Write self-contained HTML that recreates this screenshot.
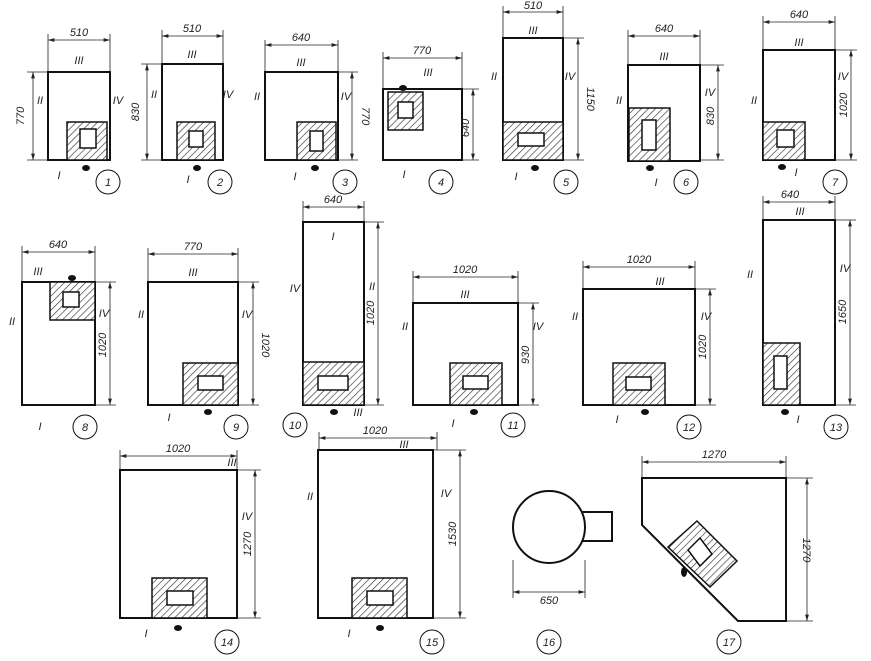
<!DOCTYPE html>
<html><head><meta charset="utf-8"><style>
html,body{margin:0;padding:0;background:#fff;}
svg{display:block}
text{font-family:"Liberation Sans",sans-serif;font-style:italic;font-size:11px;fill:#222}
.b{fill:none;stroke:#111;stroke-width:2}
.d{stroke:#222;stroke-width:0.8;fill:none}
.h{fill:url(#hat);stroke:#111;stroke-width:1.5}
.w{fill:#fff;stroke:#111;stroke-width:1.5}
.c{fill:none;stroke:#111;stroke-width:1}
</style></head><body>
<svg width="871" height="661" viewBox="0 0 871 661" xmlns="http://www.w3.org/2000/svg">
<defs>
<pattern id="hat" width="5" height="5" patternUnits="userSpaceOnUse" patternTransform="rotate(45)">
<rect width="5" height="5" fill="#fff"/><line x1="0" y1="0" x2="0" y2="5" stroke="#333" stroke-width="1.3"/></pattern>
<marker id="a" viewBox="0 0 10 6" refX="10" refY="3" markerWidth="8" markerHeight="5" orient="auto-start-reverse"><path d="M0,0 L10,3 L0,6 z" fill="#222"/></marker>
</defs>
<g class="d" marker-start="url(#a)" marker-end="url(#a)">
<line x1="48" y1="40" x2="110" y2="40"/><line x1="33" y1="72" x2="33" y2="160"/>
<line x1="162" y1="36" x2="223" y2="36"/><line x1="147" y1="64" x2="147" y2="160"/>
<line x1="265" y1="45" x2="338" y2="45"/><line x1="352" y1="72" x2="352" y2="160"/>
<line x1="383" y1="58" x2="462" y2="58"/><line x1="473" y1="89" x2="473" y2="160"/>
<line x1="503" y1="12" x2="563" y2="12"/><line x1="578" y1="38" x2="578" y2="160"/>
<line x1="628" y1="36" x2="700" y2="36"/><line x1="718" y1="65" x2="718" y2="160"/>
<line x1="763" y1="22" x2="835" y2="22"/><line x1="851" y1="50" x2="851" y2="160"/>
<line x1="22" y1="252" x2="95" y2="252"/><line x1="110" y1="282" x2="110" y2="405"/>
<line x1="148" y1="254" x2="238" y2="254"/><line x1="253" y1="282" x2="253" y2="405"/>
<line x1="303" y1="207" x2="364" y2="207"/><line x1="378" y1="222" x2="378" y2="405"/>
<line x1="413" y1="277" x2="518" y2="277"/><line x1="533" y1="303" x2="533" y2="405"/>
<line x1="583" y1="267" x2="695" y2="267"/><line x1="710" y1="289" x2="710" y2="405"/>
<line x1="763" y1="202" x2="835" y2="202"/><line x1="850" y1="220" x2="850" y2="405"/>
<line x1="120" y1="456" x2="237" y2="456"/><line x1="255" y1="470" x2="255" y2="618"/>
<line x1="319" y1="438" x2="437" y2="438"/><line x1="460" y1="450" x2="460" y2="618"/>
<line x1="513" y1="592" x2="585" y2="592"/>
<line x1="642" y1="462" x2="786" y2="462"/><line x1="807" y1="478" x2="807" y2="621"/>
</g>
<g class="d">
<path d="M48,34V72M110,34V72M27,72H48M27,160H48"/>
<path d="M162,30V64M223,30V64M141,64H162M141,160H162"/>
<path d="M265,40V72M338,40V72M338,72H358M338,160H358"/>
<path d="M383,52V89M462,52V89M462,89H479M462,160H479"/>
<path d="M503,6V38M563,6V38M563,38H584M563,160H584"/>
<path d="M628,30V65M700,30V65M700,65H724M700,160H724"/>
<path d="M763,16V50M835,16V50M835,50H857M835,160H857"/>
<path d="M22,246V282M95,246V282M95,282H116M95,405H116"/>
<path d="M148,248V282M238,248V282M238,282H259M238,405H259"/>
<path d="M303,201V222M364,201V222M364,222H384M364,405H384"/>
<path d="M413,271V303M518,271V303M518,303H539M518,405H539"/>
<path d="M583,261V289M695,261V289M695,289H716M695,405H716"/>
<path d="M763,196V220M835,196V220M835,220H856M835,405H856"/>
<path d="M120,450V470M237,450V470M237,470H261M237,618H261"/>
<path d="M319,432V450M437,432V450M433,450H466M433,618H466"/>
<path d="M513,560V598M585,560V598"/>
<path d="M642,456V478M786,456V478M786,478H813M786,621H813"/>
</g>
<rect class="b" x="48" y="72" width="62" height="88"/>
<rect class="h" x="67" y="122" width="40" height="38"/><rect class="w" x="80" y="129" width="16" height="19"/>
<rect class="b" x="162" y="64" width="61" height="96"/>
<rect class="h" x="177" y="122" width="38" height="38"/><rect class="w" x="189" y="131" width="14" height="16"/>
<rect class="b" x="265" y="72" width="73" height="88"/>
<rect class="h" x="297" y="122" width="39" height="38"/><rect class="w" x="310" y="131" width="13" height="20"/>
<rect class="b" x="383" y="89" width="79" height="71"/>
<rect class="h" x="388" y="92" width="35" height="38"/><rect class="w" x="398" y="102" width="15" height="16"/>
<rect class="b" x="503" y="38" width="60" height="122"/>
<rect class="h" x="503" y="122" width="60" height="38"/><rect class="w" x="518" y="133" width="26" height="13"/>
<rect class="b" x="628" y="65" width="72" height="96"/>
<rect class="h" x="629" y="108" width="41" height="53"/><rect class="w" x="642" y="120" width="14" height="30"/>
<rect class="b" x="763" y="50" width="72" height="110"/>
<rect class="h" x="763" y="122" width="42" height="38"/><rect class="w" x="777" y="130" width="17" height="17"/>
<rect class="b" x="22" y="282" width="73" height="123"/>
<rect class="h" x="50" y="282" width="45" height="38"/><rect class="w" x="63" y="292" width="16" height="15"/>
<rect class="b" x="148" y="282" width="90" height="123"/>
<rect class="h" x="183" y="363" width="55" height="42"/><rect class="w" x="198" y="376" width="25" height="14"/>
<rect class="b" x="303" y="222" width="61" height="183"/>
<rect class="h" x="303" y="362" width="61" height="43"/><rect class="w" x="318" y="376" width="30" height="14"/>
<rect class="b" x="413" y="303" width="105" height="102"/>
<rect class="h" x="450" y="363" width="52" height="42"/><rect class="w" x="463" y="376" width="25" height="13"/>
<rect class="b" x="583" y="289" width="112" height="116"/>
<rect class="h" x="613" y="363" width="52" height="42"/><rect class="w" x="626" y="377" width="25" height="13"/>
<rect class="b" x="763" y="220" width="72" height="185"/>
<rect class="h" x="763" y="343" width="37" height="62"/><rect class="w" x="774" y="356" width="13" height="33"/>
<rect class="b" x="120" y="470" width="117" height="148"/>
<rect class="h" x="152" y="578" width="55" height="40"/><rect class="w" x="167" y="591" width="26" height="14"/>
<rect class="b" x="318" y="450" width="115" height="168"/>
<rect class="h" x="352" y="578" width="55" height="40"/><rect class="w" x="367" y="591" width="26" height="14"/>
<circle class="b" cx="549" cy="527" r="36"/><path class="b" d="M582,512H612V541H582"/>
<polygon class="b" points="642,478 786,478 786,621 738,621 642,525"/>
<polygon class="h" points="697,521 737,561 710,587 668,547"/>
<polygon class="w" points="688,550 700,538 712,554 700,566"/>
<g fill="#111"><ellipse cx="86" cy="168" rx="4" ry="3"/><ellipse cx="197" cy="168" rx="4" ry="3"/><ellipse cx="315" cy="168" rx="4" ry="3"/><ellipse cx="403" cy="88" rx="4" ry="3"/><ellipse cx="535" cy="168" rx="4" ry="3"/><ellipse cx="650" cy="168" rx="4" ry="3"/><ellipse cx="782" cy="167" rx="4" ry="3"/><ellipse cx="72" cy="278" rx="4" ry="3"/><ellipse cx="208" cy="412" rx="4" ry="3"/><ellipse cx="334" cy="412" rx="4" ry="3"/><ellipse cx="474" cy="412" rx="4" ry="3"/><ellipse cx="645" cy="412" rx="4" ry="3"/><ellipse cx="785" cy="412" rx="4" ry="3"/><ellipse cx="178" cy="628" rx="4" ry="3"/><ellipse cx="380" cy="628" rx="4" ry="3"/><ellipse cx="684" cy="572" rx="3" ry="5"/></g>
<g class="c"><circle cx="108" cy="182" r="12"/><circle cx="220" cy="182" r="12"/><circle cx="345" cy="182" r="12"/><circle cx="441" cy="182" r="12"/><circle cx="566" cy="182" r="12"/><circle cx="686" cy="182" r="12"/><circle cx="835" cy="182" r="12"/><circle cx="85" cy="427" r="12"/><circle cx="236" cy="427" r="12"/><circle cx="295" cy="425" r="12"/><circle cx="513" cy="425" r="12"/><circle cx="689" cy="427" r="12"/><circle cx="836" cy="427" r="12"/><circle cx="227" cy="642" r="12"/><circle cx="432" cy="642" r="12"/><circle cx="549" cy="642" r="12"/><circle cx="729" cy="642" r="12"/></g>
<g text-anchor="middle">
<text x="108" y="186">1</text><text x="220" y="186">2</text><text x="345" y="186">3</text><text x="441" y="186">4</text><text x="566" y="186">5</text><text x="686" y="186">6</text><text x="835" y="186">7</text><text x="85" y="431">8</text><text x="236" y="431">9</text><text x="295" y="429">10</text><text x="513" y="429">11</text><text x="689" y="431">12</text><text x="836" y="431">13</text><text x="227" y="646">14</text><text x="432" y="646">15</text><text x="549" y="646">16</text><text x="729" y="646">17</text>
<text x="79" y="36">510</text><text x="192" y="32">510</text><text x="301" y="41">640</text><text x="422" y="54">770</text><text x="533" y="9">510</text><text x="664" y="32">640</text><text x="799" y="18">640</text>
<text x="58" y="248">640</text><text x="193" y="250">770</text><text x="333" y="203">640</text><text x="465" y="273">1020</text><text x="639" y="263">1020</text><text x="790" y="198">640</text><text x="178" y="452">1020</text><text x="375" y="434">1020</text><text x="549" y="604">650</text><text x="714" y="458">1270</text>
<text x="79" y="64" font-size="9">III</text><text x="192" y="58" font-size="9">III</text><text x="301" y="66" font-size="9">III</text><text x="428" y="76" font-size="9">III</text><text x="533" y="34" font-size="9">III</text><text x="664" y="60" font-size="9">III</text><text x="799" y="46" font-size="9">III</text><text x="38" y="275" font-size="9">III</text><text x="193" y="276" font-size="9">III</text><text x="333" y="240">I</text><text x="465" y="298" font-size="9">III</text><text x="660" y="285" font-size="9">III</text><text x="800" y="215" font-size="9">III</text><text x="232" y="466" font-size="9">III</text><text x="404" y="448" font-size="9">III</text><text x="358" y="416" font-size="9">III</text>
<text x="40" y="104" font-size="9">II</text><text x="118" y="104" font-size="9">IV</text><text x="154" y="98" font-size="9">II</text><text x="228" y="98" font-size="9">IV</text><text x="257" y="100" font-size="9">II</text><text x="346" y="100" font-size="9">IV</text><text x="494" y="80" font-size="9">II</text><text x="570" y="80" font-size="9">IV</text><text x="619" y="104" font-size="9">II</text><text x="710" y="96" font-size="9">IV</text><text x="754" y="104" font-size="9">II</text><text x="843" y="80" font-size="9">IV</text>
<text x="12" y="325" font-size="9">II</text><text x="104" y="317" font-size="9">IV</text><text x="141" y="318" font-size="9">II</text><text x="247" y="318" font-size="9">IV</text><text x="295" y="292" font-size="9">IV</text><text x="372" y="290" font-size="9">II</text><text x="405" y="330" font-size="9">II</text><text x="538" y="330" font-size="9">IV</text><text x="575" y="320" font-size="9">II</text><text x="706" y="320" font-size="9">IV</text><text x="750" y="278" font-size="9">II</text><text x="845" y="272" font-size="9">IV</text><text x="247" y="520" font-size="9">IV</text><text x="310" y="500" font-size="9">II</text><text x="446" y="497" font-size="9">IV</text>
<text x="59" y="179">I</text><text x="188" y="183">I</text><text x="295" y="180">I</text><text x="404" y="178">I</text><text x="516" y="180">I</text><text x="656" y="186">I</text><text x="796" y="176">I</text><text x="40" y="430">I</text><text x="169" y="421">I</text><text x="453" y="427">I</text><text x="617" y="423">I</text><text x="798" y="423">I</text><text x="146" y="637">I</text><text x="349" y="637">I</text>
</g>
<g font-size="10">
<text transform="translate(24,116) rotate(-90)" text-anchor="middle">770</text>
<text transform="translate(139,112) rotate(-90)" text-anchor="middle">830</text>
<text transform="translate(362,116) rotate(90)" text-anchor="middle">770</text>
<text transform="translate(469,128) rotate(-90)" text-anchor="middle">640</text>
<text transform="translate(587,99) rotate(90)" text-anchor="middle">1150</text>
<text transform="translate(714,116) rotate(-90)" text-anchor="middle">830</text>
<text transform="translate(847,105) rotate(-90)" text-anchor="middle">1020</text>
<text transform="translate(106,345) rotate(-90)" text-anchor="middle">1020</text>
<text transform="translate(262,345) rotate(90)" text-anchor="middle">1020</text>
<text transform="translate(374,313) rotate(-90)" text-anchor="middle">1020</text>
<text transform="translate(529,355) rotate(-90)" text-anchor="middle">930</text>
<text transform="translate(706,347) rotate(-90)" text-anchor="middle">1020</text>
<text transform="translate(846,312) rotate(-90)" text-anchor="middle">1650</text>
<text transform="translate(251,544) rotate(-90)" text-anchor="middle">1270</text>
<text transform="translate(456,534) rotate(-90)" text-anchor="middle">1530</text>
<text transform="translate(803,550) rotate(90)" text-anchor="middle">1270</text>
</g>
</svg>
</body></html>
